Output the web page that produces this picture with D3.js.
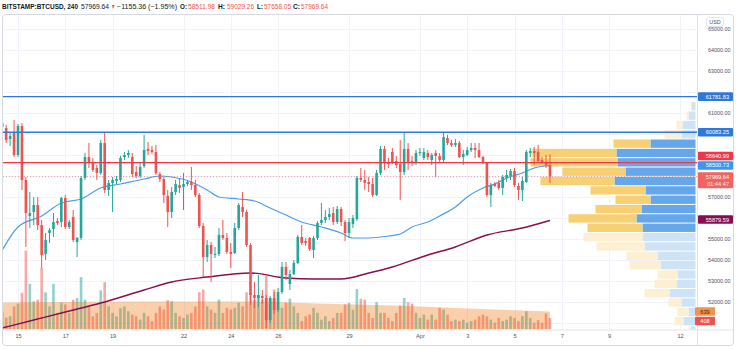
<!DOCTYPE html>
<html><head><meta charset="utf-8">
<script src="https://cdn.jsdelivr.net/npm/d3@7"></script>
<style>
html,body{margin:0;padding:0;background:#fff;}
svg{display:block;font-family:"Liberation Sans",Arial,sans-serif;}
</style></head><body>
<svg id="chart" width="736" height="349"></svg>
<script>
// ---------------- DATA ----------------
const candleStartUTC = Date.UTC(2021, 2, 14, 8); // first visible 4h candle
const candleHours = 4;
const opens = [60524,60286,59762,60048,59000,60381,57810,56095,56286,56619,55667,54286,55286,55476,55857,55810,56952,55571,56048,54857,55048,57905,58905,58667,58381,58143,59571,57333,57667,57762,57810,58905,59000,58905,58190,58000,58476,59286,59238,59143,58095,57857,57048,56286,57238,57571,57476,57619,57714,57571,57095,55619,54143,54714,54238,54286,55190,55048,54381,54333,55524,56524,56286,54714,52333,52190,52286,52190,51143,52190,51619,52476,53667,52857,53333,53857,55095,54905,55048,54476,55048,55762,55905,56048,56238,55810,56429,55810,55286,55714,55952,57905,57810,57714,57619,57095,58143,59286,58667,59143,58714,58571,58190,59286,58714,58619,59095,58857,59095,58762,59095,58952,58762,59810,59571,59476,59571,58905,59000,59238,59333,59238,58905,58619,57095,57619,57667,57429,57905,58000,58238,57524,57333,57714,59095,59190,59143,58762,58667,58511.98];
const highs = [61048,60429,60048,60667,60476,60524,57952,57238,57000,57000,55905,55286,55524,56238,56000,57000,57095,55905,56381,55095,58000,59095,59571,58857,58524,59714,60048,57810,57952,58000,58952,59143,59238,59095,58476,58619,59952,59619,59429,59476,58190,57952,57333,57476,57810,57905,58143,57810,58429,57810,57190,55762,54952,54857,54619,55524,55905,55286,54810,55762,56714,57238,56381,54810,52952,53286,52571,52333,52286,52476,52667,53905,53905,53524,54000,55190,55667,55048,55095,55143,55857,56714,56381,56476,56524,56571,56524,55905,56000,56143,58000,58381,58286,57952,57905,58286,59429,59429,58857,59333,58952,59714,60048,59571,58952,59238,59333,59333,59238,59095,59238,59095,60048,59952,59714,59762,59667,59238,59381,59571,59571,59571,58952,58667,57667,57714,57810,58048,58286,58333,58381,57667,57952,59238,59333,59381,59476,58905,59000,59029.26];
const lows = [59381,59571,59429,58905,58905,57333,54619,55524,55667,55429,53619,54000,54810,55095,55667,55571,55476,55476,54857,54143,54952,57810,58381,58190,57810,58048,57190,57048,56286,57619,57714,58762,58857,57952,57905,57905,58381,59000,59048,58048,57714,56714,55571,56000,57095,57190,56381,57524,57333,57000,55524,53190,53905,52952,54095,54190,54952,54286,53619,54286,55429,56048,54619,51857,51714,51762,51905,50762,51000,51429,51524,52381,53048,52571,53286,53810,54714,54667,54429,54095,54952,55667,55762,55905,55667,55714,55619,54905,55048,55524,55857,57714,57333,57238,57000,57048,58048,58286,58381,58571,58381,56857,58048,58286,58476,58524,58952,58762,58762,58524,57952,58667,58667,59476,59381,59381,58857,58524,58952,59143,58857,58857,58571,57000,56524,57476,57333,57095,57714,57810,57476,56857,56810,57667,58905,58524,58619,58571,58381,57658.05];
const closes = [60334,59714,59905,59000,60381,57810,56238,56238,56619,55667,54238,54952,55429,55810,55762,56952,55571,55810,54952,55048,57905,58905,58667,58286,58143,59571,57333,57667,57810,57857,58857,59000,59095,58095,58000,58429,59238,59190,59143,58143,57857,57095,56286,57238,57619,57429,57619,57714,57571,57095,55619,54143,54714,54286,54286,55190,55048,54381,54286,55524,56619,56286,54714,52333,52190,52333,52190,51143,52190,51619,52476,53667,53286,53333,53857,55095,54810,54810,54524,55048,55762,55905,56048,56190,55810,56429,55810,55286,55810,56000,57905,57810,57667,57619,57095,58143,59286,58619,58571,58667,58524,58190,59286,58619,58619,59095,59143,59143,58905,59000,58952,58762,59857,59571,59476,59571,58905,59048,59238,59333,59238,58905,58667,57095,57571,57524,57429,57952,58048,58238,57571,57333,57762,59143,59190,59095,58714,58667,58524,57969.64];
const volumes = [640,420,470,820,920,1300,2800,1620,1000,1060,2190,1320,820,1620,590,950,890,590,1060,1120,1860,1060,820,470,590,1390,1680,820,590,470,760,820,650,530,470,350,590,470,300,590,820,710,1040,1000,590,470,410,530,590,820,1320,1420,820,710,590,1060,590,770,710,770,950,820,1320,1300,1060,1180,1060,1900,1120,1420,710,770,950,1090,820,590,300,470,530,770,590,350,470,300,410,590,590,890,950,700,1440,1090,1060,590,410,970,590,590,410,300,590,850,1120,970,920,590,410,530,350,530,350,770,710,530,300,350,300,350,240,300,350,470,530,470,350,240,410,300,350,470,410,300,470,650,410,240,330,240,570,408];

// moving averages (sampled at candle indices)
const ma50Idx = [0,4,10,15,20,25,30,36,40,43,48,52,55,60,64,68,72,76,81,86,89,93,98,101,104,108,111,115,118,122,125,128,132,135,139];
const ma50 = [54476,55571,56095,56714,56905,57429,57619,57857,58000,57952,57714,57333,57000,56905,56810,56476,56143,55810,55571,55286,55048,55048,55143,55238,55571,55810,56095,56524,57000,57429,57619,57905,58143,58381,58500.73];
const ma200Idx = [0,8,16,25,36,43,52,63,72,79,86,93,99,108,115,123,132,139];
const ma200 = [50762,51143,51524,51952,52571,52952,53190,53381,53143,53095,53095,53381,53667,54238,54619,55190,55524,55879.59];
const volMaIdx = [0,15,33,50,64,80,99,106,115,125,139];
const volMa = [958,975,994,990,994,920,852,817,760,710,639];

// visible-range volume profile (bin low price, up volume, down volume)
const profileBinSize = 445;
const profileLow = [61097,60652,60207,59762,59317,58872,58427,57982,57537,57092,56647,56202,55757,55312,54867,54422,53977,53532,53087,52642,52197,51752,51307,50862,50417];
const profileUp = [400,700,1300,1400,4500,7900,7800,7000,8100,5000,4500,5400,5900,5300,5300,5100,3800,3500,1800,1900,2600,1400,700,1200,500];
const profileDown = [0,200,600,1700,3700,8400,8700,6300,7400,5500,3500,4600,6800,5500,5900,4800,3100,3100,2000,2200,2500,1300,1100,900,200];
const valueAreaHigh = 59762, valueAreaLow = 55312;

const levelLines = [61781.83, 60083.25];
const resistance = 58640.99;
const lastPrice = 57969.64;
const countdown = "01:44:47";
const lastVolume = 408, lastVolMa = 639;

const priceTicks = [51000,52000,53000,54000,55000,56000,57000,58000,59000,60000,61000,62000,63000,64000,65000];
const dateTicks = ["2021-03-15","2021-03-17","2021-03-19","2021-03-22","2021-03-24","2021-03-26","2021-03-29","2021-04-01","2021-04-03","2021-04-05","2021-04-07","2021-04-09","2021-04-12"];
const dateLabels = ["15","17","19","22","24","26","29","Apr","3","5","7","9","12"];

const headerTitle = "BITSTAMP:BTCUSD, 240";
const headerChange = "\u22121155.36 (\u22121.95%)";

// ---------------- LAYOUT ----------------
const plot = {left: 3, top: 14.5, right: 697, bottom: 329.5};
const svg = d3.select("#chart");
const UP = "#26a69a", DOWN = "#ef5350";

const t = i => new Date(candleStartUTC + i * candleHours * 3600e3);
const x = d3.scaleUtc().domain([new Date(Date.UTC(2021,2,15)), new Date(Date.UTC(2021,3,12))]).range([18, 680]);
const y = d3.scaleLinear().domain([50000, 65000]).range([344, 29]);
const yv = d3.scaleLinear().domain([0, 2840]).range([plot.bottom, plot.bottom - 80]);
const xp = d3.scaleLinear().domain([0, 16500]).range([0, 165]);

svg.append("defs").append("clipPath").attr("id","clip").append("rect")
  .attr("x", plot.left).attr("y", plot.top).attr("width", plot.right - plot.left).attr("height", plot.bottom - plot.top);

// grid
const grid = svg.append("g").attr("clip-path","url(#clip)");
grid.selectAll("line.h").data(priceTicks).join("line")
  .attr("x1", plot.left).attr("x2", plot.right)
  .attr("y1", d => Math.round(y(d)) + 0.5).attr("y2", d => Math.round(y(d)) + 0.5)
  .attr("stroke", "#f0f3fa");
grid.selectAll("line.v").data(dateTicks).join("line")
  .attr("x1", d => Math.round(x(new Date(d + "T00:00:00Z"))) + 0.5)
  .attr("x2", d => Math.round(x(new Date(d + "T00:00:00Z"))) + 0.5)
  .attr("y1", plot.top).attr("y2", plot.bottom).attr("stroke", "#f0f3fa");

const g = svg.append("g").attr("clip-path","url(#clip)");

// volume profile
const rows = profileLow.map((lo, i) => ({lo, up: profileUp[i], dn: profileDown[i],
  va: lo >= valueAreaLow - 1 && lo < valueAreaHigh}));
const pr = g.append("g");
const rowTop = d => y(d.lo + profileBinSize) + 0.5;
const rowH = d => y(d.lo) - y(d.lo + profileBinSize) - 1;
pr.selectAll("rect.up").data(rows).join("rect")
  .attr("x", d => 695.5 - xp(d.up)).attr("width", d => xp(d.up))
  .attr("y", rowTop).attr("height", rowH)
  .attr("fill", d => d.va ? "#66a7ea" : "#cfe3f7");
pr.selectAll("rect.dn").data(rows).join("rect")
  .attr("x", d => 695.5 - xp(d.up) - xp(d.dn)).attr("width", d => xp(d.dn))
  .attr("y", rowTop).attr("height", rowH)
  .attr("fill", d => d.va ? "#f6d073" : "#fcefd2");

// volume bars
const cw = 2.6;
const idx = d3.range(opens.length);
g.selectAll("rect.vol").data(idx).join("rect")
  .attr("x", i => x(t(i)) - cw/2).attr("width", cw)
  .attr("y", i => yv(volumes[i])).attr("height", i => plot.bottom - yv(volumes[i]))
  .attr("fill", i => closes[i] >= opens[i] ? "rgba(38,166,154,0.5)" : "rgba(239,83,80,0.5)");

// volume MA area
g.append("path")
  .datum(volMaIdx.map((k, j) => [k, volMa[j]]))
  .attr("d", d3.area().x(d => x(t(d[0]))).y0(plot.bottom).y1(d => yv(d[1])).curve(d3.curveMonotoneX))
  .attr("fill", "rgba(239,108,0,0.33)");

// moving averages
g.append("path")
  .datum(ma200Idx.map((k, j) => [k, ma200[j]]))
  .attr("d", d3.line().x(d => x(t(d[0]))).y(d => y(d[1])).curve(d3.curveMonotoneX))
  .attr("fill", "none").attr("stroke", "#880e4f").attr("stroke-width", 1.4);
g.append("path")
  .datum(ma50Idx.map((k, j) => [k, ma50[j]]))
  .attr("d", d3.line().x(d => x(t(d[0]))).y(d => y(d[1])).curve(d3.curveMonotoneX))
  .attr("fill", "none").attr("stroke", "#4a9cf0").attr("stroke-width", 1.2);

// candles
const cg = g.append("g");
cg.selectAll("line").data(idx).join("line")
  .attr("x1", i => x(t(i))).attr("x2", i => x(t(i)))
  .attr("y1", i => y(highs[i])).attr("y2", i => y(lows[i]))
  .attr("stroke", i => closes[i] >= opens[i] ? UP : DOWN).attr("stroke-width", 1);
cg.selectAll("rect").data(idx).join("rect")
  .attr("x", i => x(t(i)) - cw/2).attr("width", cw)
  .attr("y", i => y(Math.max(opens[i], closes[i])))
  .attr("height", i => Math.max(1, Math.abs(y(opens[i]) - y(closes[i]))))
  .attr("fill", i => closes[i] >= opens[i] ? UP : DOWN);

// horizontal levels
g.selectAll("line.lvl").data(levelLines).join("line")
  .attr("x1", plot.left).attr("x2", plot.right)
  .attr("y1", d => y(d)).attr("y2", d => y(d))
  .attr("stroke", "#2f78d8").attr("stroke-width", 1.3);
g.append("line").attr("x1", plot.left).attr("x2", plot.right)
  .attr("y1", y(resistance)).attr("y2", y(resistance))
  .attr("stroke", "#f23645").attr("stroke-width", 1.3);
g.append("line").attr("x1", plot.left).attr("x2", plot.right)
  .attr("y1", y(lastPrice)).attr("y2", y(lastPrice))
  .attr("stroke", "#ef5350").attr("stroke-width", 0.8).attr("stroke-dasharray", "1,2").attr("opacity", 0.7);

// frame
svg.append("rect").attr("x", 2.5).attr("y", 14.5).attr("width", 731).attr("height", 331).attr("rx", 3)
  .attr("fill", "none").attr("stroke", "#d6d9e0");
svg.append("line").attr("x1", plot.right + 0.5).attr("x2", plot.right + 0.5).attr("y1", 14.5).attr("y2", 345.5).attr("stroke", "#e0e3eb");
svg.append("line").attr("x1", 2.5).attr("x2", 733.5).attr("y1", plot.bottom + 0.5).attr("y2", plot.bottom + 0.5).attr("stroke", "#e0e3eb");

// axis price tags (computed first so covered tick labels can be dropped)
const tags = [
  {v: levelLines[0], text: levelLines[0].toFixed(2), fill: "#2f78d8", dy: 0, h: 8.6},
  {v: levelLines[1], text: levelLines[1].toFixed(2), fill: "#2f78d8", dy: 0, h: 8.6},
  {v: resistance, text: resistance.toFixed(2), fill: "#f23645", dy: -6.5, h: 8.6},
  {v: ma50[ma50.length - 1], text: ma50[ma50.length - 1].toFixed(2), fill: "#3d95ee", dy: 0, h: 8.6},
  {v: ma200[ma200.length - 1], text: ma200[ma200.length - 1].toFixed(2), fill: "#880e4f", dy: -1, h: 8.6},
  {v: lastPrice, text: lastPrice.toFixed(2), fill: "#ef5350", dy: 0, h: 16, sub: countdown}
];
const covered = v => tags.some(d => {
  const top = y(d.v) + d.dy - 4.3, bot = top + d.h;
  return y(v) > top - 5 && y(v) < bot + 5;
}) || y(v) > 316;

// price axis
const ya = svg.append("g").attr("transform", `translate(${plot.right},0)`)
  .call(d3.axisRight(y).tickValues(priceTicks.filter(v => !covered(v))).tickFormat(d => d.toFixed(2)).tickSize(0).tickPadding(11));
ya.select(".domain").remove();
ya.selectAll("text").attr("fill", "#4c525e").attr("font-size", 5.4).attr("font-family", "Liberation Sans, Arial, sans-serif");

// date axis
const xa = svg.append("g").attr("transform", `translate(0,${plot.bottom})`)
  .call(d3.axisBottom(x).tickValues(dateTicks.map(d => new Date(d + "T00:00:00Z")))
    .tickFormat((d, i) => dateLabels[i]).tickSize(0).tickPadding(5));
xa.select(".domain").remove();
xa.selectAll("text").attr("fill", "#4c525e").attr("font-size", 5.6).attr("font-family", "Liberation Sans, Arial, sans-serif");

// USD badge
svg.append("rect").attr("x", 706.5).attr("y", 17.5).attr("width", 17).attr("height", 9).attr("rx", 2)
  .attr("fill", "#fff").attr("stroke", "#e3e6ec");
svg.append("text").attr("x", 715).attr("y", 24.2).attr("text-anchor", "middle")
  .attr("font-size", 5.4).attr("fill", "#4c525e").text("USD");

const tg = svg.append("g");
tags.forEach(d => {
  const cy = y(d.v) + d.dy;
  tg.append("rect").attr("x", 698).attr("y", cy - 4.3).attr("width", 35).attr("height", d.h).attr("rx", 1)
    .attr("fill", d.fill).attr("opacity", d.sub ? 0.9 : 1);
  tg.append("text").attr("x", 729).attr("y", cy + 2).attr("text-anchor", "end")
    .attr("font-size", 5.6).attr("fill", "#fff").text(d.text);
  if (d.sub) tg.append("text").attr("x", 729).attr("y", cy + 9.5).attr("text-anchor", "end")
    .attr("font-size", 5.6).attr("fill", "#fde3e3").text(d.sub);
});
// volume tags
[{v: lastVolMa, fill: "#f0934f", cy: yv(lastVolMa), c: "#3a2a10"},
 {v: lastVolume, fill: "#ef5350", cy: yv(lastVolMa) + 9.5, c: "#fff"}].forEach(d => {
  tg.append("rect").attr("x", 695).attr("y", d.cy - 4.3).attr("width", 20).attr("height", 8.6).attr("rx", 1).attr("fill", d.fill);
  tg.append("text").attr("x", 705).attr("y", d.cy + 2).attr("text-anchor", "middle").attr("font-size", 5.6).attr("fill", d.c).text(d.v);
});

// header
const last = opens.length - 1;
const hdr = svg.append("g").attr("font-size", 6.8);
const seg = (xx, txt, fill, w, bold) => hdr.append("text").attr("x", xx).attr("y", 8.6)
  .attr("fill", fill).attr("font-weight", bold ? "bold" : "normal")
  .attr("textLength", w).attr("lengthAdjust", "spacingAndGlyphs").text(txt);
seg(2, headerTitle, "#131722", 76, true);
seg(81, closes[last].toFixed(2), "#131722", 28);
seg(111, "\u25BC", DOWN, 4.5);
seg(117, headerChange, "#131722", 60);
seg(180, "O:", "#131722", 7, true); seg(188, opens[last].toFixed(2), DOWN, 27);
seg(218, "H:", "#131722", 7, true); seg(227, highs[last].toFixed(2), DOWN, 27);
seg(257, "L:", "#131722", 6, true); seg(264, lows[last].toFixed(2), DOWN, 27);
seg(293, "C:", "#131722", 7, true); seg(301, closes[last].toFixed(2), DOWN, 27);
</script>
</body></html>
